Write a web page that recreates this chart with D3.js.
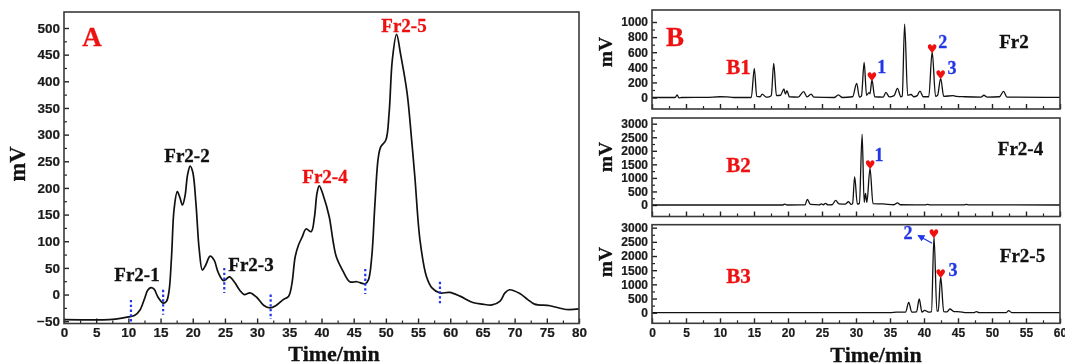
<!DOCTYPE html>
<html>
<head>
<meta charset="utf-8">
<script src="https://cdn.jsdelivr.net/npm/d3@7"></script>
<style>
  html, body { margin: 0; padding: 0; background: #fff; }
  svg { display: block; filter: blur(0.35px); }
  .tick-label { font-family: "Liberation Sans", Arial, sans-serif; font-weight: bold; fill: #1a1a1a; stroke: #1a1a1a; stroke-width: 0.2px; }
  .serif { font-family: "Liberation Serif", "Times New Roman", serif; font-weight: bold; stroke-width: 0.3px; }
</style>
</head>
<body>
<svg id="chart" width="1065" height="364"></svg>
<script>
// Panel A: [time, mV]
const tracePrep = [[0,-47],[7,-47],[8,-46],[10,-42],[11,-39],[11.8,-29],[12.5,-8],[13,8],[13.5,13],[14,10],[14.6,-5],[15.4,-16],[15.9,-13],[16.3,5],[16.7,70],[17.1,160],[17.6,193],[18,182],[18.4,168],[18.8,185],[19.2,225],[19.6,241],[20,230],[20.5,170],[21,85],[21.5,46],[22,55],[22.7,72],[23.3,65],[24,40],[24.8,26],[25.7,33],[26.5,23],[27.3,8],[28,0],[28.9,3],[30,-6],[31,-20],[32,-25],[33,-20],[34,-10],[34.9,-3],[35.4,20],[35.9,70],[36.4,92],[37,108],[37.6,123],[38.4,118],[38.9,145],[39.3,190],[39.65,204],[40.3,185],[41.2,146],[41.8,100],[42.3,71],[43.3,45],[44.4,24],[45.5,24],[46.8,20],[47.3,28],[47.8,70],[48.3,170],[48.8,255],[49.2,277],[50,290],[50.5,340],[51,440],[51.66,488],[52.3,450],[53.3,378],[54,290],[54.5,221],[55.3,102],[56.3,34],[57.2,12],[58.4,3],[59.9,4],[61.5,-3],[63.5,-15],[65,-18],[66.5,-19.5],[67.7,-13],[68.5,3],[69.2,9],[70.8,2],[72,-9],[73.1,-18],[75.5,-21],[78,-28],[80,-27]];

// Time/mV ends of the blue dotted cuts in panel A
const cutTimes = [10.4, 15.4, 24.9, 32.1, 46.8, 58.4];
const cutTops = [-10, 9, 50, 0, 48, 24];
const cutBottoms = [-52, -38, 3, -46, 1, -21];

// Panel B chromatograms: [time, mV]
const traceFr2 = [[0,0],[3.4,0],[3.7,35],[3.95,-5],[4.4,0],[8,2],[10,10],[11,8],[12,0],[14.6,0],[15.05,387],[15.4,15],[15.9,10],[16.2,45],[16.8,5],[17.2,8],[17.55,30],[17.9,453],[18.3,25],[18.9,30],[19.4,113],[19.62,45],[19.85,90],[20.2,10],[21.5,5],[22.3,77],[22.8,8],[23.4,45],[23.8,5],[26.8,0],[27.4,35],[28,0],[29.5,10],[30.1,188],[30.5,5],[30.8,20],[31.2,466],[31.55,30],[31.9,64],[32.05,50],[32.35,232],[32.75,10],[34,5],[34.4,68],[34.9,8],[35.6,25],[36.1,122],[36.6,10],[36.8,20],[37.15,973],[37.6,30],[38.1,40],[38.5,10],[39,25],[39.4,86],[39.9,10],[40.7,10],[41.2,606],[41.7,15],[42,30],[42.45,254],[42.9,15],[44.3,25],[44.8,15],[46,10],[48.4,5],[48.8,30],[49.3,5],[51.1,10],[51.7,82],[52.2,5],[60,2]];
const traceFr24 = [[0,0],[19.2,0],[19.5,30],[19.9,0],[22.5,5],[22.85,210],[23.3,20],[24.6,5],[24.9,40],[25.2,10],[25.5,60],[25.9,5],[26.5,10],[27,170],[27.5,40],[28.4,30],[28.9,120],[29.3,20],[29.5,50],[29.8,1045],[30.2,30],[30.5,60],[30.9,2608],[31.2,100],[31.4,430],[31.6,100],[32.06,1350],[32.5,50],[34,40],[35.6,10],[36.1,80],[36.5,10],[40.2,5],[40.5,25],[40.9,5],[45.9,5],[46.2,25],[46.6,5],[60,0]];
const traceFr25 = [[0,0],[35,5],[36,20],[37.3,20],[37.75,367],[38.2,20],[38.9,30],[39.3,483],[39.7,20],[40.1,80],[40.7,20],[41.1,40],[41.47,2683],[41.9,60],[42.1,60],[42.45,1270],[42.9,40],[43.4,30],[43.8,130],[44.4,40],[45.3,30],[46,5],[47.4,5],[47.7,40],[48.1,5],[52.1,5],[52.45,70],[52.9,5],[60,0]];

// Heart markers sit above these peaks
const heartsFr2 = [[32.35,232],[41.2,606],[42.45,254]];
const heartsFr24 = [[32.06,1350]];
const heartsFr25 = [[41.47,2683],[42.45,1270]];

const xTicksA = d3.range(0, 81, 5);
const yTicksA = d3.range(-50, 501, 50);
const xTicksB = d3.range(0, 61, 5);
const yTicksFr2 = d3.range(0, 1001, 200);
const yTicksFr24 = d3.range(0, 3001, 500);

const svg = d3.select('#chart');

// Draws box, ticks and trace of one panel, returns its scales
function drawPanel({ box, xDomain, yDomain, xTicks, yTicks, xMinor, yMinor, trace, showX, fontSize, lineWidth, curve, xPad }) {
  const x = d3.scaleLinear().domain(xDomain).range([box.left, box.right]);
  const y = d3.scaleLinear().domain(yDomain).range([box.bottom, box.top]);

  // Minor ticks first
  svg.append('g')
    .attr('transform', `translate(0,${box.bottom})`)
    .call(d3.axisBottom(x).tickValues(xMinor).tickSize(-3).tickFormat(''))
    .call(g => g.select('.domain').remove())
    .call(g => g.selectAll('line').attr('stroke', '#222').attr('stroke-width', 1.2));
  svg.append('g')
    .attr('transform', `translate(${box.left},0)`)
    .call(d3.axisLeft(y).tickValues(yMinor).tickSize(-3).tickFormat(''))
    .call(g => g.select('.domain').remove())
    .call(g => g.selectAll('line').attr('stroke', '#222').attr('stroke-width', 1.2));

  // Major ticks, pointing into the box
  const xAxis = svg.append('g')
    .attr('transform', `translate(0,${box.bottom})`)
    .call(d3.axisBottom(x).tickValues(xTicks).tickSizeInner(-5).tickSizeOuter(0).tickPadding(xPad).tickFormat(showX ? d3.format('d') : ''));
  const yAxis = svg.append('g')
    .attr('transform', `translate(${box.left},0)`)
    .call(d3.axisLeft(y).tickValues(yTicks).tickSizeInner(-5).tickSizeOuter(0).tickPadding(4).tickFormat(d3.format('d')));
  [xAxis, yAxis].forEach(axis => {
    axis.select('.domain').remove();
    axis.selectAll('line').attr('stroke', '#222').attr('stroke-width', 1.4);
    axis.selectAll('text')
      .attr('class', 'tick-label')
      .style('font-size', fontSize + 'px');
  });

  // Trace
  svg.append('path')
    .datum(trace)
    .attr('fill', 'none')
    .attr('stroke', '#111')
    .attr('stroke-width', lineWidth)
    .attr('stroke-linejoin', 'round')
    .attr('d', d3.line().x(d => x(d[0])).y(d => y(d[1])).curve(curve));

  // Frame
  svg.append('rect')
    .attr('x', box.left)
    .attr('y', box.top)
    .attr('width', box.right - box.left)
    .attr('height', box.bottom - box.top)
    .attr('fill', 'none')
    .attr('stroke', '#3a3a3a')
    .attr('stroke-width', 1.6);

  return { x, y };
}

const minorBetween = (ticks) => ticks.slice(1).map((t, i) => (t + ticks[i]) / 2);

// Panel A
const panelA = drawPanel({
  box: { left: 64, right: 579, top: 12, bottom: 323.5 },
  xDomain: [0, 80], yDomain: [-54.3, 530],
  xTicks: xTicksA, yTicks: yTicksA,
  xMinor: minorBetween(xTicksA), yMinor: minorBetween(yTicksA),
  trace: tracePrep, showX: true, fontSize: 13.5, lineWidth: 1.7,
  curve: d3.curveCatmullRom.alpha(0.5), xPad: 4
});

// Blue dotted cuts between fractions
svg.append('g')
  .selectAll('line')
  .data(cutTimes)
  .enter()
  .append('line')
  .attr('x1', d => panelA.x(d))
  .attr('x2', d => panelA.x(d))
  .attr('y1', (d, i) => panelA.y(cutTops[i]))
  .attr('y2', (d, i) => panelA.y(cutBottoms[i]))
  .attr('stroke', '#1f35e8')
  .attr('stroke-width', 2.2)
  .attr('stroke-dasharray', '2.4 2.4');

// Panels B1-B3
const boxLeft = 652, boxRight = 1060;
const panelB1 = drawPanel({
  box: { left: boxLeft, right: boxRight, top: 10, bottom: 109 },
  xDomain: [0, 60], yDomain: [-152, 1159],
  xTicks: xTicksB, yTicks: yTicksFr2,
  xMinor: minorBetween(xTicksB), yMinor: minorBetween(yTicksFr2),
  trace: traceFr2, showX: false, fontSize: 12, lineWidth: 1.3,
  curve: d3.curveMonotoneX, xPad: 0
});
const panelB2 = drawPanel({
  box: { left: boxLeft, right: boxRight, top: 118, bottom: 216.5 },
  xDomain: [0, 60], yDomain: [-424, 3210],
  xTicks: xTicksB, yTicks: yTicksFr24,
  xMinor: minorBetween(xTicksB), yMinor: minorBetween(yTicksFr24),
  trace: traceFr24, showX: false, fontSize: 12, lineWidth: 1.3,
  curve: d3.curveMonotoneX, xPad: 0
});
const panelB3 = drawPanel({
  box: { left: boxLeft, right: boxRight, top: 224.7, bottom: 323.3 },
  xDomain: [0, 60], yDomain: [-374, 3105],
  xTicks: xTicksB, yTicks: yTicksFr24,
  xMinor: minorBetween(xTicksB), yMinor: minorBetween(yTicksFr24),
  trace: traceFr25, showX: true, fontSize: 12, lineWidth: 1.3,
  curve: d3.curveMonotoneX, xPad: 5
});

// Hearts over the marked peaks
[[panelB1, heartsFr2], [panelB2, heartsFr24], [panelB3, heartsFr25]].forEach(([panel, hearts]) => {
  svg.append('g')
    .selectAll('text')
    .data(hearts)
    .enter()
    .append('text')
    .attr('x', d => panel.x(d[0]))
    .attr('y', d => panel.y(d[1]) + 1)
    .attr('text-anchor', 'middle')
    .style('font-family', '"DejaVu Sans"')
    .style('font-size', '12px')
    .style('fill', '#f01010')
    .text('\u2665');
});

// Text labels
function label(txt, x, y, size, color, anchor = 'middle') {
  svg.append('text')
    .attr('class', 'serif')
    .attr('x', x)
    .attr('y', y)
    .attr('text-anchor', anchor)
    .style('font-size', size + 'px')
    .style('fill', color)
    .style('stroke', color)
    .text(txt);
}

const red = '#ee1111', blue = '#2236e6', black = '#111';

label('A', 92, 46, 27, red);
label('Fr2-1', 137, 281, 19, black);
label('Fr2-2', 187, 162, 19, black);
label('Fr2-3', 251, 271, 19, black);
label('Fr2-4', 325, 183, 19, red);
label('Fr2-5', 404, 32, 19, red);
label('Time/min', 334, 361, 22, black);

label('B', 675, 46, 27, red);
label('B1', 738.5, 74, 21, red);
label('B2', 738.5, 171.7, 21, red);
label('B3', 738.5, 283.3, 21, red);
label('Fr2', 1014, 48, 19, black);
label('Fr2-4', 1020.5, 155, 19, black);
label('Fr2-5', 1022.5, 261.7, 19, black);
label('Time/min', 876, 361.5, 22, black);

label('1', 881.7, 73, 18, blue);
label('2', 942.7, 48, 18, blue);
label('3', 952, 74, 18, blue);
label('1', 879, 161, 18, blue);
label('2', 908, 239, 18, blue);
label('3', 953, 276, 18, blue);

// Rotated axis titles
[[25, 164, 22.5], [612, 52, 19.5], [612, 157, 19.5], [612, 262, 19.5]].forEach(([tx, ty, size]) => {
  svg.append('text')
    .attr('class', 'serif')
    .attr('transform', `translate(${tx},${ty}) rotate(-90)`)
    .attr('text-anchor', 'middle')
    .style('font-size', size + 'px')
    .style('fill', black)
    .style('stroke', black)
    .text('mV');
});

// Arrow from peak 2 towards its number in B3
svg.append('defs').append('marker')
  .attr('id', 'arrow')
  .attr('viewBox', '0 0 10 10')
  .attr('refX', 8)
  .attr('refY', 5)
  .attr('markerWidth', 7)
  .attr('markerHeight', 7)
  .attr('markerUnits', 'userSpaceOnUse')
  .attr('orient', 'auto')
  .append('path')
  .attr('d', 'M0,0L10,5L0,10z')
  .attr('fill', blue);
svg.append('line')
  .attr('x1', panelB3.x(41.2))
  .attr('y1', 243.3)
  .attr('x2', panelB3.x(39.2))
  .attr('y2', 235.7)
  .attr('stroke', blue)
  .attr('stroke-width', 1.3)
  .attr('marker-end', 'url(#arrow)');
</script>
</body>
</html>
